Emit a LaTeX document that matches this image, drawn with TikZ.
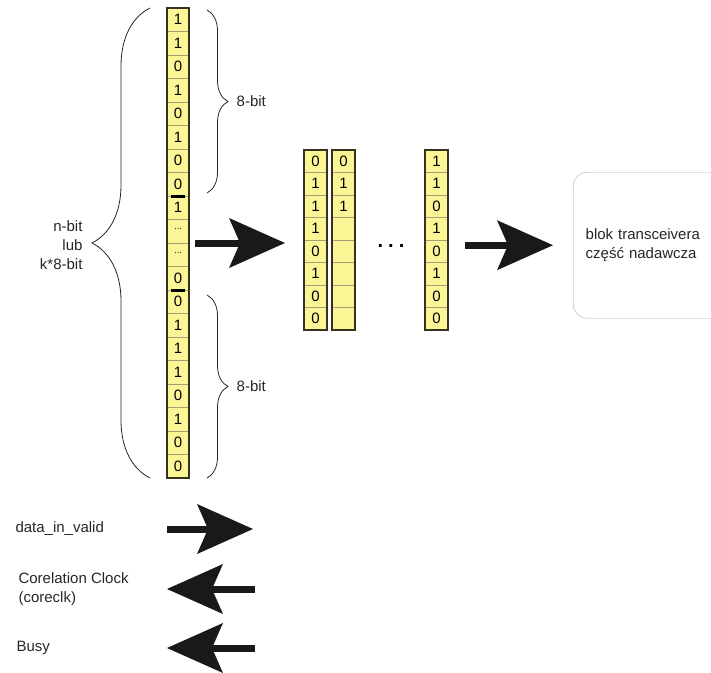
\documentclass[tikz,border=0pt]{standalone}
\usepackage{fontspec}
\setmainfont{Liberation Sans}
\usetikzlibrary{arrows.meta,decorations.pathreplacing,positioning}
\definecolor{cellyellow}{RGB}{250,246,150}
\definecolor{cellline}{RGB}{165,160,115}
\definecolor{colframe}{RGB}{55,50,30}
\definecolor{boxgray}{RGB}{170,170,170}
\newcommand{\celldots}{\raisebox{4pt}{\fontsize{9}{9}\selectfont...}}
\tikzset{
  bit/.style      = {draw=cellline, fill=cellyellow, minimum width=22pt,
                     minimum height=23.5pt, inner sep=0pt, outer sep=0pt,
                     font=\fontsize{15}{18}\selectfont},
  word/.style     = {bit, minimum width=23pt, minimum height=22.5pt},
  colborder/.style = {draw=colframe, line width=2pt},
  wordgap/.style  = {line width=3pt, black},
  bigarrow/.style = {line width=7pt, black!90,
                     -{Stealth[length=56pt, width=50pt, inset=11pt, line width=0pt]}},
  curly/.style    = {decorate, thick, draw=black!85},
  txt/.style      = {font=\fontsize{15}{19}\selectfont, text=black!85}
}

\begin{document}
\begin{tikzpicture}[x=1pt, y=-1pt]
  \useasboundingbox (0,0) rectangle (711,672);

  % input column, n bits
  \foreach \b [count=\i] in {1,1,0,1,0,1,0,0,1,\celldots,\celldots,0,0,1,1,1,0,1,0,0}
    \node[bit] (in\i) at (178,{8+23.5*(\i-0.5)}) {\b};
  \draw[colborder] (in1.north west) rectangle (in20.south east);
  \draw[wordgap] ([xshift=4pt]in8.south west) -- ([xshift=-4pt]in8.south east);
  \draw[wordgap] ([xshift=4pt]in12.south west) -- ([xshift=-4pt]in12.south east);

  % braces round the input
  \draw[curly, decoration={brace, amplitude=58pt}]
    ([xshift=-17pt]in20.south west) -- ([xshift=-17pt]in1.north west);
  \node[txt, align=right, anchor=east] (nbit) at (86,245) {n-bit\\lub\\k*8-bit};

  \draw[curly, decoration={brace, amplitude=21pt}]
    ([xshift=18pt, yshift=-2pt]in1.north east) --
    node[txt, right=26pt] (byte1) {8-bit}
    ([xshift=18pt, yshift=3pt]in8.south east);
  \draw[curly, decoration={brace, amplitude=21pt}]
    ([xshift=18pt, yshift=-5pt]in13.north east) --
    node[txt, right=26pt] (byte2) {8-bit}
    ([xshift=18pt]in20.south east);

  % 8-bit words
  \foreach \b [count=\i] in {0,1,1,1,0,1,0,0}
    \node[word] (fa\i) at (315.5,{150+22.5*(\i-0.5)}) {\b};
  \foreach \b [count=\i] in {0,1,1,{},{},{},{},{}}
    \node[word] (fb\i) at (343.5,{150+22.5*(\i-0.5)}) {\b};
  \foreach \b [count=\i] in {1,1,0,1,0,1,0,0}
    \node[word] (fc\i) at (436.5,{150+22.5*(\i-0.5)}) {\b};
  \foreach \c in {fa,fb,fc}
    \draw[colborder] (\c1.north west) rectangle (\c8.south east);
  \node[anchor=base, font=\fontsize{20}{20}\selectfont\bfseries] (gap) at (391,247)
    {.\hspace{5pt}.\hspace{5pt}.};

  % transceiver block
  \node[txt, draw=boxgray, rounded corners=14pt, anchor=north west,
        minimum width=175pt, minimum height=146pt, text width=150pt,
        align=left, inner sep=11pt] (tx) at (573,172)
    {blok transceivera\\część nadawcza};

  % data flow
  \draw[bigarrow, shorten <=6pt, shorten >=19pt]
    (in10.south east) -- (in10.south east -| fa1.west);
  \draw[bigarrow, shorten <=17pt, shorten >=20pt]
    (tx.west -| fc1.east) -- (tx.west);

  % control signals
  \node[txt, anchor=west] (valid) at (12,529) {data\_in\_valid};
  \node[txt, anchor=west, align=left] (clk) at (15,589) {Corelation Clock\\(coreclk)};
  \node[txt, anchor=west] (busy) at (13,648) {Busy};
  \coordinate (validend) at (253,529);
  \coordinate (clkend) at (255,589);
  \coordinate (busyend) at (255,648);
  \draw[bigarrow] (valid.east -| in1.west) -- (validend);
  \draw[bigarrow] (clkend) -- (clk.east -| in1.west);
  \draw[bigarrow] (busyend) -- (busy.east -| in1.west);
\end{tikzpicture}
\end{document}
